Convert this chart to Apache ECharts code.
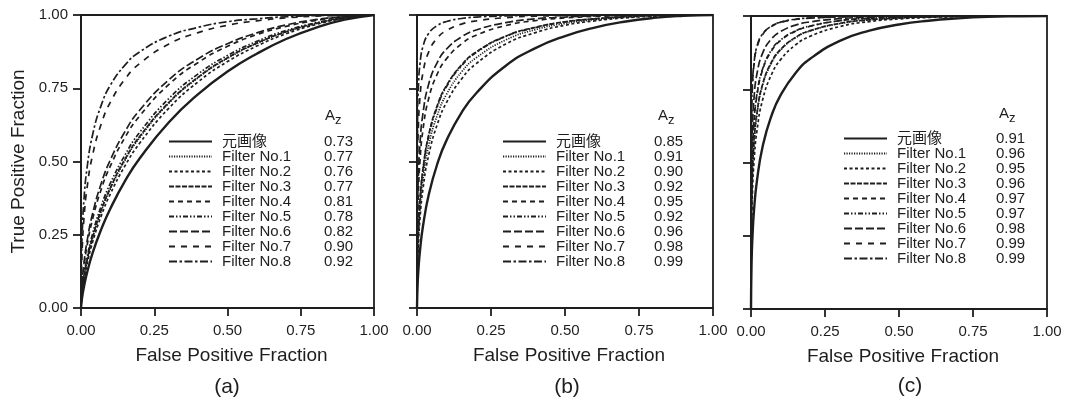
<!DOCTYPE html>
<html>
<head>
<meta charset="utf-8">
<script src="https://cdn.jsdelivr.net/npm/echarts@6/dist/echarts.min.js"></script>
<style>
    html, body { margin: 0; background: #fff; }
    #grafico { width: 1066px; height: 408px; }
</style>
</head>
<body>
<div id="grafico"></div>
<script>
// dados
var fpf = [0, 0.002, 0.005, 0.01, 0.02, 0.04, 0.07, 0.1, 0.15, 0.2, 0.3, 0.4, 0.5, 0.6, 0.7, 0.8, 0.9, 1];

var nomes = ["元画像", "Filter No.1", "Filter No.2", "Filter No.3", "Filter No.4", "Filter No.5", "Filter No.6", "Filter No.7", "Filter No.8"];

var azA = ["0.73", "0.77", "0.76", "0.77", "0.81", "0.78", "0.82", "0.90", "0.92"];
var azB = ["0.85", "0.91", "0.90", "0.92", "0.95", "0.92", "0.96", "0.98", "0.99"];
var azC = ["0.91", "0.96", "0.95", "0.96", "0.97", "0.97", "0.98", "0.99", "0.99"];

// TPF de cada curva, nos pontos de fpf
var tprA = [
    [0, .022, .044, .072, .118, .189, .271, .339, .433, .510, .634, .730, .807, .868, .918, .956, .984, 1],
    [0, .034, .063, .100, .157, .240, .333, .406, .504, .581, .699, .786, .852, .903, .942, .970, .990, 1],
    [0, .030, .058, .093, .146, .226, .317, .389, .485, .562, .682, .772, .841, .894, .936, .967, .989, 1],
    [0, .035, .065, .102, .160, .243, .337, .410, .508, .585, .702, .788, .854, .904, .943, .971, .990, 1],
    [0, .051, .091, .139, .209, .305, .408, .484, .582, .655, .763, .838, .893, .933, .961, .981, .994, 1],
    [0, .037, .069, .109, .168, .255, .351, .425, .522, .599, .715, .799, .862, .910, .947, .973, .991, 1],
    [0, .057, .100, .152, .224, .324, .428, .505, .602, .675, .779, .851, .902, .939, .966, .984, .995, 1],
    [0, .144, .223, .304, .405, .524, .631, .702, .781, .834, .901, .940, .965, .980, .990, .996, .999, 1],
    [0, .187, .278, .368, .473, .593, .695, .760, .829, .874, .928, .958, .977, .987, .994, .998, .999, 1]
];
var tprB = [
    [0, .079, .134, .195, .278, .388, .496, .573, .666, .733, .827, .887, .928, .957, .977, .990, .997, 1],
    [0, .163, .248, .334, .437, .558, .662, .730, .805, .854, .915, .950, .971, .984, .992, .997, .999, 1],
    [0, .144, .223, .304, .405, .524, .631, .702, .781, .834, .901, .940, .965, .980, .990, .996, .999, 1],
    [0, .187, .278, .368, .473, .593, .695, .760, .829, .874, .928, .958, .977, .987, .994, .998, .999, 1],
    [0, .291, .401, .500, .607, .717, .802, .851, .901, .931, .964, .981, .990, .995, .998, .999, 1, 1],
    [0, .182, .272, .362, .467, .588, .690, .756, .826, .872, .927, .957, .976, .987, .994, .998, .999, 1],
    [0, .344, .460, .560, .663, .766, .841, .884, .925, .949, .974, .987, .993, .997, .999, 1, 1, 1],
    [0, .510, .628, .718, .802, .875, .923, .947, .969, .980, .991, .996, .998, .999, 1, 1, 1, 1],
    [0, .660, .762, .832, .892, .938, .965, .978, .988, .993, .997, .999, 1, 1, 1, 1, 1, 1]
];
var tprC = [
    [0, .163, .248, .334, .437, .558, .662, .730, .805, .854, .915, .950, .971, .984, .992, .997, .999, 1],
    [0, .344, .460, .560, .663, .766, .841, .884, .925, .949, .974, .987, .993, .997, .999, 1, 1, 1],
    [0, .291, .401, .500, .607, .717, .802, .851, .901, .931, .964, .981, .990, .995, .998, .999, 1, 1],
    [0, .350, .466, .566, .668, .770, .844, .886, .927, .950, .975, .987, .993, .997, .999, 1, 1, 1],
    [0, .414, .533, .631, .728, .818, .882, .916, .948, .965, .984, .992, .996, .998, .999, 1, 1, 1],
    [0, .420, .540, .637, .733, .822, .885, .918, .949, .966, .984, .992, .996, .998, .999, 1, 1, 1],
    [0, .510, .628, .718, .802, .875, .923, .947, .969, .980, .991, .996, .998, .999, 1, 1, 1, 1],
    [0, .660, .762, .832, .892, .938, .965, .978, .988, .993, .997, .999, 1, 1, 1, 1, 1, 1],
    [0, .670, .770, .838, .896, .940, .966, .979, .989, .993, .997, .999, 1, 1, 1, 1, 1, 1]
];

var tprs = [tprA, tprB, tprC];
var azs = [azA, azB, azC];

// estilo
var cor = "#1e1e1e";
var fonte = "'Liberation Sans', Arial, 'Noto Sans CJK JP', sans-serif";

var tracos = [
    { width: 2.4, type: "solid" },
    { width: 1.7, type: [1.2, 1.3] },
    { width: 1.7, type: [3, 2.5] },
    { width: 1.7, type: [5, 1.5] },
    { width: 1.7, type: [5, 4] },
    { width: 1.7, type: [5, 2, 1.5, 2, 1.5, 2] },
    { width: 1.7, type: [8, 3] },
    { width: 1.7, type: [6, 6] },
    { width: 1.7, type: [8, 2.5, 2.5, 2.5] }
];

var grades = [
    { left: 81, top: 15, width: 293, height: 293 },
    { left: 417, top: 15, width: 296, height: 293 },
    { left: 751, top: 16, width: 296, height: 293 }
];

var legendas = [
    { left: 168, top: 134, larg: 102 },
    { left: 502, top: 134, larg: 98 },
    { left: 843, top: 131, larg: 99 }
];

var cabecalhos = [
    { x: 325, y: 116 },
    { x: 658, y: 116 },
    { x: 999, y: 114 }
];

var rotulos = [
    { x: 227, y: 387, text: "(a)" },
    { x: 567, y: 387, text: "(b)" },
    { x: 910, y: 386, text: "(c)" }
];

var grafico = echarts.init(document.getElementById("grafico"));

var eixoX = grades.map((g, i) => ({
    type: "value",
    gridIndex: i,
    min: 0,
    max: 1,
    interval: 0.25,
    name: "False Positive Fraction",
    nameLocation: "middle",
    nameGap: 38,
    nameTextStyle: { fontSize: 19, color: cor, fontFamily: fonte, padding: [0, 0, 0, 8] },
    axisLine: { lineStyle: { color: cor, width: 2 } },
    axisTick: { inside: false, length: 8, lineStyle: { color: cor, width: 1.8 } },
    axisLabel: { fontSize: 15, color: cor, fontFamily: fonte, margin: 15, formatter: v => v.toFixed(2) },
    splitLine: { show: false }
}));

var eixoY = grades.map((g, i) => ({
    type: "value",
    gridIndex: i,
    min: 0,
    max: 1,
    interval: 0.25,
    name: i == 0 ? "True Positive Fraction" : "",
    nameLocation: "middle",
    nameGap: 53,
    nameTextStyle: { fontSize: 19, color: cor, fontFamily: fonte },
    axisLine: { lineStyle: { color: cor, width: 2 } },
    axisTick: { inside: false, length: 8, lineStyle: { color: cor, width: 1.8 } },
    axisLabel: { show: i == 0, fontSize: 15, color: cor, fontFamily: fonte, margin: 13, formatter: v => v.toFixed(2) },
    splitLine: { show: false }
}));

var series = [];
tprs.forEach((painel, g) => {
    painel.forEach((linha, k) => {
        series.push({
            name: nomes[k],
            type: "line",
            xAxisIndex: g,
            yAxisIndex: g,
            data: fpf.map((f, j) => [f, linha[j]]),
            symbol: "none",
            color: cor,
            smooth: 0.5,
            silent: true,
            lineStyle: { color: cor, width: tracos[k].width, type: tracos[k].type }
        });
    });
});

var legenda = legendas.map((l, i) => ({
    orient: "vertical",
    left: l.left,
    top: l.top,
    padding: 0,
    itemWidth: 43,
    itemHeight: 14,
    itemGap: 0,
    selectedMode: false,
    itemStyle: { opacity: 0 },
    data: nomes,
    formatter: nome => `{n|${nome}}{v|${azs[i][nomes.indexOf(nome)]}}`,
    textStyle: {
        color: cor,
        rich: {
            n: { width: l.larg, padding: [0, 0, 0, 5], fontSize: 15, lineHeight: 19, color: cor, fontFamily: fonte },
            v: { fontSize: 15, lineHeight: 19, color: cor, fontFamily: fonte }
        }
    }
}));

var textos = [];
cabecalhos.forEach(c => {
    textos.push({ type: "text", x: c.x, y: c.y, style: { text: "A", fontSize: 15, fontFamily: fonte, fill: cor, textVerticalAlign: "middle" } });
    textos.push({ type: "text", x: c.x + 10, y: c.y + 4, style: { text: "z", fontSize: 13, fontFamily: fonte, fill: cor, textVerticalAlign: "middle" } });
});
rotulos.forEach(r => {
    textos.push({ type: "text", x: r.x, y: r.y, style: { text: r.text, fontSize: 21, fontFamily: fonte, fill: cor, textAlign: "center", textVerticalAlign: "middle" } });
});

var option = {
    backgroundColor: "#fff",
    animation: false,
    grid: grades.map(g => Object.assign({ show: true, borderColor: cor, borderWidth: 1.8 }, g)),
    xAxis: eixoX,
    yAxis: eixoY,
    legend: legenda,
    graphic: textos,
    series: series
};

grafico.setOption(option);
</script>
</body>
</html>
